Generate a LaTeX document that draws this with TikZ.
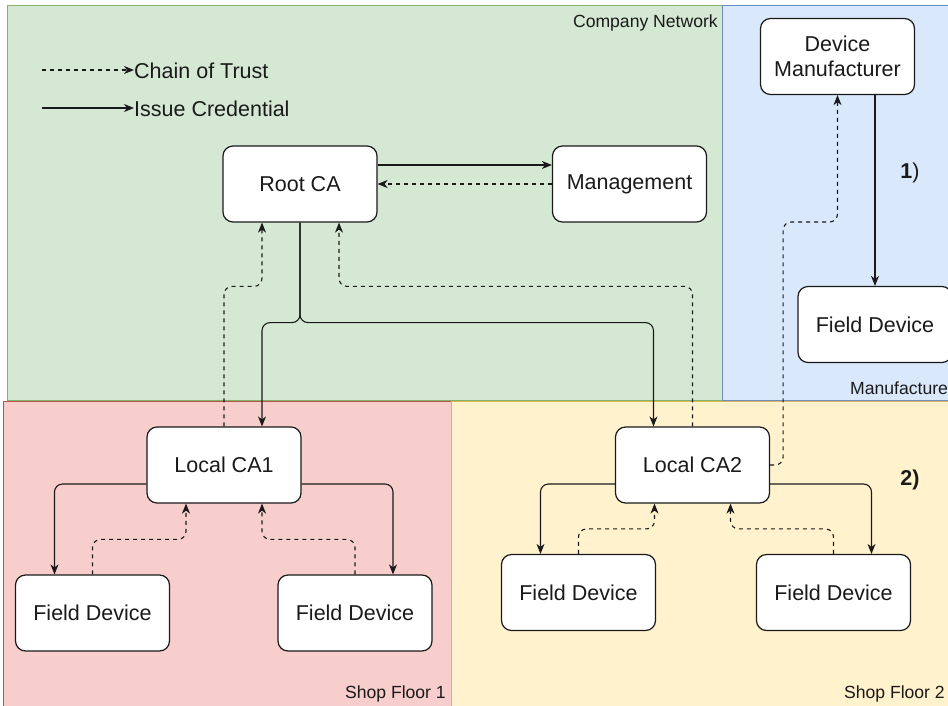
\documentclass[tikz,border=0pt]{standalone}
\usepackage{fontspec}
\setmainfont{Liberation Sans}
\usetikzlibrary{arrows.meta}
\definecolor{gfill}{HTML}{D5E8D4}\definecolor{gline}{HTML}{82B366}
\definecolor{bfill}{HTML}{DAE8FC}\definecolor{bline}{HTML}{6C8EBF}
\definecolor{rfill}{HTML}{F8CECC}\definecolor{rline}{HTML}{B85450}
\definecolor{yfill}{HTML}{FFF2CC}\definecolor{yline}{HTML}{D6B656}
\definecolor{ink}{HTML}{1A1A1A}
\begin{document}
\begin{tikzpicture}[x=1pt,y=-1pt,
 box/.style={draw=ink, rounded corners=10pt, fill=white, line width=1.2pt, minimum width=154pt, minimum height=76pt, font=\fontsize{21.5}{25}\selectfont, align=center, inner sep=0pt, text=ink},
 cred/.style={draw=ink, -{Stealth[length=10pt,width=8pt,inset=3pt]}, line width=1.1pt, rounded corners=8pt},
 trust/.style={cred, dash pattern=on 4pt off 4pt},
 zone/.style={line width=0.9pt},
 zlabel/.style={font=\fontsize{17.6}{20}\selectfont, inner sep=0pt, text=ink},
 legend/.style={font=\fontsize{21.5}{25}\selectfont, inner sep=0pt, text=ink}]
\useasboundingbox (0,0) rectangle (948,705);
\begin{scope}
\clip (0,0) rectangle (948,705);
% zones
\filldraw[zone, fill=gfill, draw=gline] (7,5) rectangle (722,400);
\filldraw[zone, fill=bfill, draw=bline] (722,5) rectangle (960,400);
\filldraw[zone, fill=rfill, draw=rline] (3,401) rectangle (451,720);
\filldraw[zone, fill=yfill, draw=yline] (451,401) rectangle (960,720);
\node[zlabel, anchor=east] (zc) at (718,23) {Company Network};
\node[zlabel, anchor=west] (zm) at (850,388) {Manufacture};
\node[zlabel, anchor=east] (z1) at (446,694) {Shop Floor 1};
\node[zlabel, anchor=east] (z2) at (945,694) {Shop Floor 2};
% legend
\coordinate (l1a) at (42,70);
\coordinate (l2a) at (42,108);
\node[legend, anchor=west] (l1) at (134,71) {Chain of Trust};
\node[legend, anchor=west] (l2) at (134,109) {Issue Credential};
\draw[trust] (l1a) -- (l1a -| l1.west);
\draw[cred] (l2a) -- (l2a -| l2.west);
% nodes
\node[box] (root) at (300,184) {Root CA};
\node[box] (mgmt) at (629.5,184) {Management};
\node[box] (dm) at (837.5,56.5) {Device\\Manufacturer};
\node[box] (fdm) at (875,324.5) {Field Device};
\node[box] (ca1) at (224,465) {Local CA1};
\node[box] (ca2) at (692.5,465) {Local CA2};
\node[box] (fd1a) at (92.5,613) {Field Device};
\node[box] (fd1b) at (355,613) {Field Device};
\node[box] (fd2a) at (578.5,592.5) {Field Device};
\node[box] (fd2b) at (833.5,592.5) {Field Device};
\node[legend] (n1) at (910,173) {\textbf{1})};
\node[legend, font=\fontsize{21.5}{25}\selectfont\bfseries] (n2) at (910,480) {2)};
% connectors
\draw[cred] ([yshift=19pt]root.east) -- ([yshift=19pt]mgmt.west);
\draw[trust] (mgmt.west) -- (root.east);
\draw[cred] (root.south) -- ++(0,100) -| ([xshift=38pt]ca1.north);
\draw[cred] (root.south) -- ++(0,100) -| ([xshift=-39pt]ca2.north);
\draw[trust] (ca1.north) -- ++(0,-140) -| ([xshift=-38pt]root.south);
\draw[trust] (ca2.north) -- ++(0,-140) -| ([xshift=39pt]root.south);
\draw[trust] (ca2.east) -- ++(13,0) -- ++(0,-243) -| (dm.south);
\draw[cred] (dm.south -| fdm.north) -- (fdm.north);
\draw[cred] ([yshift=-19pt]ca1.west) -| ([xshift=-38pt]fd1a.north);
\draw[cred] ([yshift=-19pt]ca1.east) -| ([xshift=38pt]fd1b.north);
\draw[trust] (fd1a.north) -- ++(0,-35) -| ([xshift=-38pt]ca1.south);
\draw[trust] (fd1b.north) -- ++(0,-35) -| ([xshift=38pt]ca1.south);
\draw[cred] ([yshift=-19pt]ca2.west) -| ([xshift=-38pt]fd2a.north);
\draw[cred] ([yshift=-19pt]ca2.east) -| ([xshift=38pt]fd2b.north);
\draw[trust] (fd2a.north) -- ++(0,-25) -| ([xshift=-38pt]ca2.south);
\draw[trust] (fd2b.north) -- ++(0,-25) -| ([xshift=38pt]ca2.south);
\end{scope}
\end{tikzpicture}
\end{document}
